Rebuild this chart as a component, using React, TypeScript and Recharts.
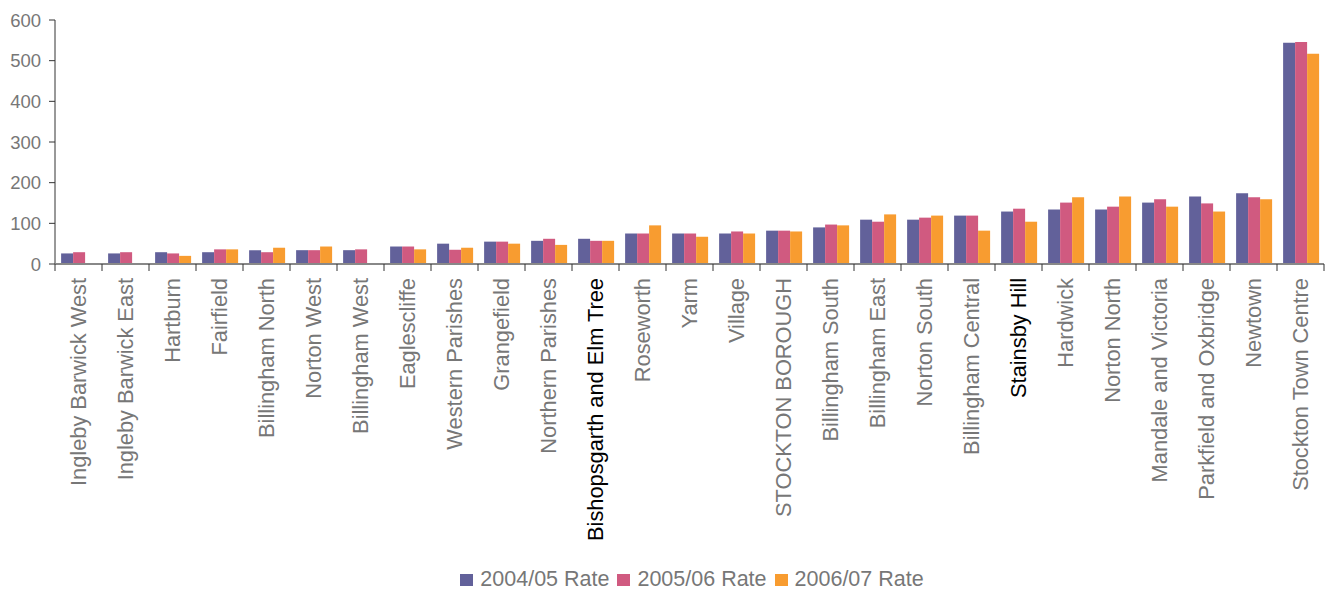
import { BarChart, Bar, XAxis, YAxis, Legend } from "recharts";

const wards = [
  "Ingleby Barwick West",
  "Ingleby Barwick East",
  "Hartburn",
  "Fairfield",
  "Billingham North",
  "Norton West",
  "Billingham West",
  "Eaglescliffe",
  "Western Parishes",
  "Grangefield",
  "Northern Parishes",
  "Bishopsgarth and Elm Tree",
  "Roseworth",
  "Yarm",
  "Village",
  "STOCKTON BOROUGH",
  "Billingham South",
  "Billingham East",
  "Norton South",
  "Billingham Central",
  "Stainsby Hill",
  "Hardwick",
  "Norton North",
  "Mandale and Victoria",
  "Parkfield and Oxbridge",
  "Newtown",
  "Stockton Town Centre",
];

const rate0405 = [
  26, 26, 29, 29, 34, 34, 34, 43, 50, 55, 57, 62, 75, 75, 75, 82, 90, 109,
  109, 119, 129, 134, 134, 151, 166, 174, 544,
];
const rate0506 = [
  29, 29, 26, 36, 29, 34, 36, 43, 35, 55, 62, 57, 75, 75, 80, 82, 97, 104,
  114, 119, 136, 151, 141, 159, 149, 164, 546,
];
const rate0607 = [
  null, null, 20, 36, 40, 43, null, 36, 40, 50, 47, 57, 95, 67, 75, 80, 95,
  122, 119, 82, 104, 164, 166, 141, 129, 159, 517,
];

const yTicks = [0, 100, 200, 300, 400, 500, 600];

// wards whose axis label is printed in black rather than grey
const darkLabels = ["Stainsby Hill", "Bishopsgarth and Elm Tree"];

const series = [
  { key: "r0405", name: "2004/05 Rate", color: "#62619a" },
  { key: "r0506", name: "2005/06 Rate", color: "#d05a80" },
  { key: "r0607", name: "2006/07 Rate", color: "#f89c30" },
];

const data = wards.map((ward, i) => ({
  ward,
  r0405: rate0405[i],
  r0506: rate0506[i],
  r0607: rate0607[i],
}));

const FONT = "'Liberation Sans', Arial, sans-serif";
const BAND = (1324 - 55) / wards.length;

function WardTick(props: any) {
  const { x, y, payload, index } = props;
  const left = x - BAND / 2;
  const last = index === wards.length - 1;
  const dark = darkLabels.includes(payload.value);
  return (
    <g>
      <line x1={left} y1={y} x2={left} y2={y + 7} stroke="#333" />
      {last && (
        <line x1={left + BAND} y1={y} x2={left + BAND} y2={y + 7} stroke="#333" />
      )}
      <text
        x={x}
        y={y + 14}
        dy="0.35em"
        transform={`rotate(-90, ${x}, ${y + 14})`}
        textAnchor="end"
        fontSize={21.8}
        fontFamily={FONT}
        fill={dark ? "#000" : "#777"}
      >
        {payload.value}
      </text>
    </g>
  );
}

function RateLegend() {
  return (
    <div
      style={{
        display: "flex",
        justifyContent: "center",
        alignItems: "center",
        paddingLeft: 68,
        fontFamily: FONT,
        fontSize: 21.5,
        color: "#777",
      }}
    >
      {series.map((s) => (
        <span
          key={s.key}
          style={{ display: "flex", alignItems: "center", marginRight: 8 }}
        >
          <span
            style={{
              width: 13,
              height: 12,
              background: s.color,
              display: "inline-block",
              marginRight: 7,
            }}
          />
          {s.name}
        </span>
      ))}
    </div>
  );
}

export default function App() {
  return (
    <div style={{ position: "absolute", left: 0, top: 0, background: "#fff" }}>
      <BarChart
        width={1327}
        height={593}
        data={data}
        margin={{ top: 20, right: 3, bottom: 0, left: 0 }}
        barCategoryGap="13%"
        barGap={0}
      >
        <YAxis
          width={55}
          domain={[0, 600]}
          ticks={yTicks}
          interval={0}
          axisLine={{ stroke: "#333" }}
          tickLine={{ stroke: "#333" }}
          tickSize={6}
          tickMargin={8}
          tick={{ fontSize: 18.5, fontFamily: FONT, fill: "#777" }}
        />
        <XAxis
          dataKey="ward"
          interval={0}
          height={303}
          axisLine={{ stroke: "#888", strokeWidth: 2 }}
          tickLine={false}
          tickSize={0}
          tickMargin={0}
          tick={<WardTick />}
        />
        <Legend verticalAlign="bottom" height={26} content={<RateLegend />} />
        {series.map((s) => (
          <Bar
            key={s.key}
            dataKey={s.key}
            name={s.name}
            fill={s.color}
            isAnimationActive={false}
          />
        ))}
      </BarChart>
    </div>
  );
}
